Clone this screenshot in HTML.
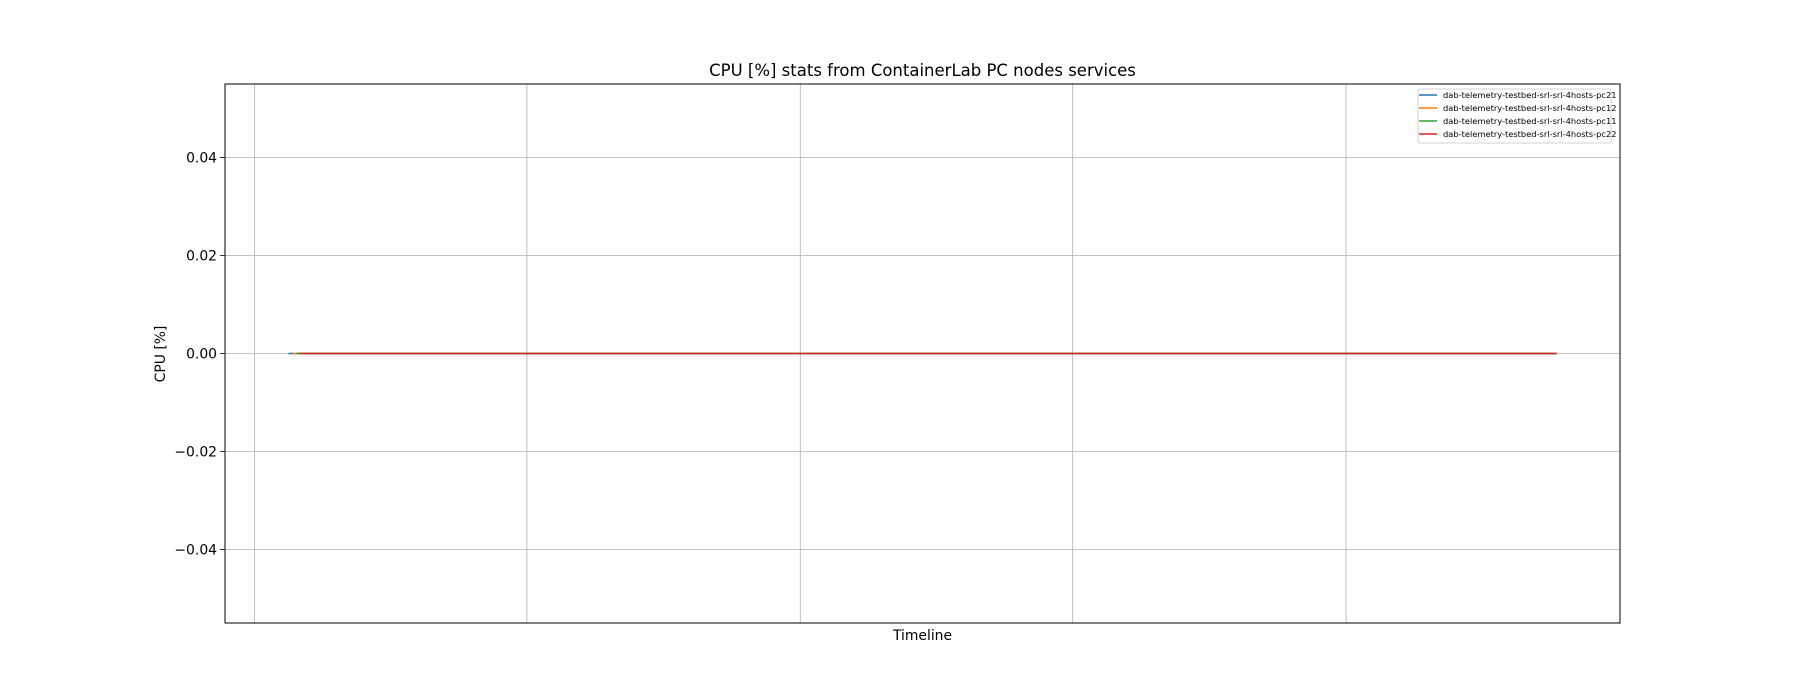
<!DOCTYPE html>
<html><head><meta charset="utf-8"><style>
body{margin:0;background:#fff}
svg{display:block;font-family:"DejaVu Sans","Liberation Sans",sans-serif}
</style></head><body>
<svg width="1800" height="700" xmlns="http://www.w3.org/2000/svg" id="chart"></svg>
<script>
const seriesNames=["dab-telemetry-testbed-srl-srl-4hosts-pc21","dab-telemetry-testbed-srl-srl-4hosts-pc12","dab-telemetry-testbed-srl-srl-4hosts-pc11","dab-telemetry-testbed-srl-srl-4hosts-pc22"];
const seriesColors=["#1f77b4","#ff7f0e","#2ca02c","#d62728"];
const seriesTimes=[[0,1271],[4,1271],[8,1271],[11,1271]];
const seriesValues=[[0,0],[0,0],[0,0],[0,0]];
const yTicks=[-0.04,-0.02,0,0.02,0.04];
const yTickLabels=["\u22120.04","\u22120.02","0.00","0.02","0.04"];
const xGrid=[-34,239,513,786,1060];
const NS="http://www.w3.org/2000/svg";
const svg=document.getElementById('chart');
const L=225,R=1620,T=84,B=623;
const tmin=0,tmax=1271,pad=(tmax-tmin)*0.05;
const xs=t=>L+(t-(tmin-pad))/(tmax-tmin+2*pad)*(R-L);
const ys=v=>B-(v+0.055)/0.11*(B-T);
function el(tag,a,p){const e=document.createElementNS(NS,tag);for(const k in a)e.setAttribute(k,a[k]);(p||svg).appendChild(e);return e;}
const t=el('text',{x:(L+R)/2,y:76,'text-anchor':'middle','font-size':'16.5'});t.textContent="CPU [%] stats from ContainerLab PC nodes services";


xGrid.forEach(g=>{const l=el('line',{x1:xs(g),x2:xs(g),y1:T,y2:B,stroke:'#b0b0b0','stroke-width':0.8});

});
yTicks.forEach((v,i)=>{const y=ys(v);
const g=el('line',{x1:L,x2:R,y1:y,y2:y,stroke:'#b0b0b0','stroke-width':0.8});


el('line',{x1:L-5,x2:L,y1:y,y2:y,stroke:'#000','stroke-width':0.8});
const tx=el('text',{x:L-8,y:y+5,'text-anchor':'end','font-size':'13.9'});tx.textContent=yTickLabels[i];

});
seriesTimes.forEach((ts,i)=>{const pts=ts.map((tt,j)=>xs(tt)+','+ys(seriesValues[i][j])).join(' ');
const p=el('polyline',{points:pts,fill:'none',stroke:seriesColors[i],'stroke-width':1.5});

});
const fr=el('rect',{x:L,y:T,width:R-L,height:B-T,fill:'none',stroke:'#000','stroke-width':1});


const xl=el('text',{x:(L+R)/2,y:640,'text-anchor':'middle','font-size':'13.9'});xl.textContent="Timeline";


const yl=el('text',{x:0,y:0,'text-anchor':'middle','font-size':'13.9',transform:'translate(165,354) rotate(-90)'});yl.textContent="CPU [%]";


const lg=el('g',{});


el('rect',{x:1418,y:89,width:193,height:54,fill:'#fff',stroke:'#d0d0d0','stroke-width':1,rx:2},lg);
seriesNames.forEach((n,i)=>{const y=95+i*13;
el('line',{x1:1419,x2:1437,y1:y,y2:y,stroke:seriesColors[i],'stroke-width':1.5},lg);
const tx=el('text',{x:1443,y:y+3,'font-size':'8.3'},lg);tx.textContent=n;

});
</script>
</body></html>
